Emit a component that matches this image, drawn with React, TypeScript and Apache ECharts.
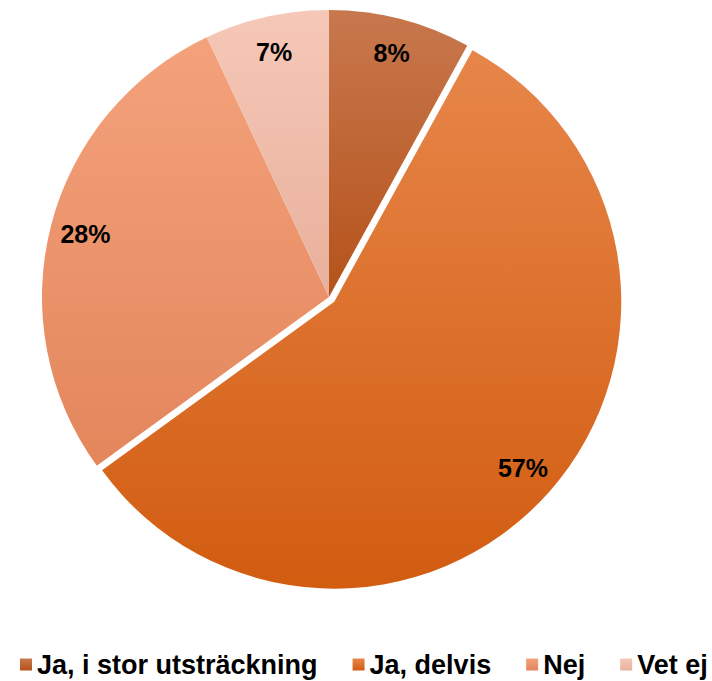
import React, { useEffect, useRef } from "react";
import * as echarts from "echarts";

const categories = ["Ja, i stor utsträckning", "Ja, delvis", "Nej", "Vet ej"];
const values = [8, 57, 28, 7];
const topColors = ["#c8784e", "#e7864a", "#f4a27c", "#f6c8b8"];
const bottomColors = ["#b5521a", "#d25c10", "#e3865c", "#e8b09c"];
const explodedIndex = 1;

const FONT = "'Liberation Sans', Arial, sans-serif";

export default function App() {
  const ref = useRef<HTMLDivElement>(null);

  useEffect(() => {
    if (!ref.current) return;
    const chart = echarts.init(ref.current, undefined, { renderer: "svg" });
    const grad = (i: number) =>
      new echarts.graphic.LinearGradient(0, 0, 0, 1, [
        { offset: 0, color: topColors[i] },
        { offset: 1, color: bottomColors[i] },
      ]);
    const center = [329, 297];
    chart.setOption({
      animation: false,
      backgroundColor: "#ffffff",
      legend: {
        data: categories,
        left: 20,
        top: 651,
        width: 690,
        padding: 0,
        itemWidth: 12,
        itemHeight: 12,
        itemGap: 35,
        icon: "rect",
        selectedMode: false,
        textStyle: {
          fontFamily: FONT,
          fontWeight: "bold",
          fontSize: 27,
          lineHeight: 27,
          color: "#000000",
        },
      },
      series: [
        {
          type: "pie",
          center,
          radius: [0, 287],
          startAngle: 90,
          clockwise: true,
          selectedMode: "single",
          selectedOffset: 7,
          silent: true,
          label: { show: false },
          labelLine: { show: false },
          emphasis: { disabled: true },
          data: categories.map((name, i) => ({
            name,
            value: values[i],
            selected: i === explodedIndex,
            itemStyle: { color: grad(i) },
          })),
        },
        {
          type: "pie",
          center,
          radius: [210, 287],
          startAngle: 90,
          clockwise: true,
          selectedMode: "single",
          selectedOffset: 7,
          silent: true,
          itemStyle: { color: "transparent" },
          emphasis: { disabled: true },
          labelLine: { show: false },
          label: {
            show: true,
            position: "inside",
            formatter: (p: any) => p.value + "%",
            fontFamily: FONT,
            fontWeight: "bold",
            fontSize: 25,
            color: "#000000",
          },
          data: categories.map((name, i) => ({
            name,
            value: values[i],
            selected: i === explodedIndex,
          })),
        },
      ],
    });
    return () => chart.dispose();
  }, []);

  return (
    <div
      ref={ref}
      style={{ position: "fixed", left: 0, top: 0, width: 712, height: 681 }}
    />
  );
}
